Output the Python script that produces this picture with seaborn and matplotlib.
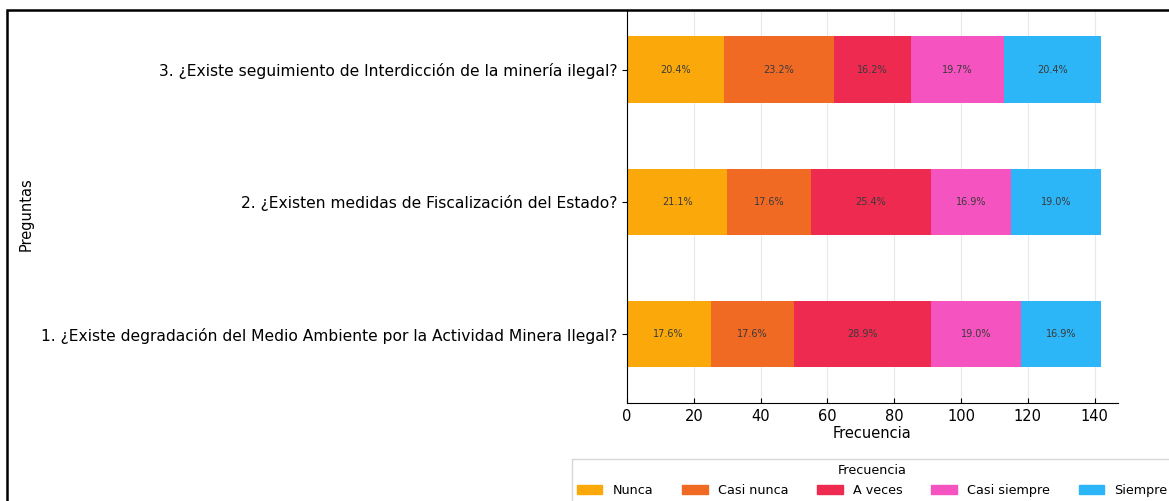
import numpy as np
import pandas as pd
import matplotlib
matplotlib.use('Agg')
import matplotlib.pyplot as plt
import seaborn as sns
from matplotlib.patches import Patch, Rectangle

# datos (frecuencias por respuesta, n = 142)
preguntas = [
    '3. ¿Existe seguimiento de Interdicción de la minería ilegal?',
    '2. ¿Existen medidas de Fiscalización del Estado?',
    '1. ¿Existe degradación del Medio Ambiente por la Actividad Minera Ilegal?',
]
categorias = ['Nunca', 'Casi nunca', 'A veces', 'Casi siempre', 'Siempre']
nunca = [29, 30, 25]
casi_nunca = [33, 25, 25]
a_veces = [23, 36, 41]
casi_siempre = [28, 24, 27]
siempre = [29, 27, 24]
colores = ['#FBA90A', '#F06A24', '#EE2A50', '#F553BF', '#2CB6F8']

df = pd.DataFrame({'Pregunta': preguntas, 'Nunca': nunca, 'Casi nunca': casi_nunca,
                   'A veces': a_veces, 'Casi siempre': casi_siempre, 'Siempre': siempre})
acum = df[categorias].cumsum(axis=1)
total = df[categorias].sum(axis=1)

fig = plt.figure(figsize=(11.69, 5.01), dpi=100)
ax = fig.add_axes([627/1169, 1 - 403/501, (1118 - 627)/1169, (403 - 10)/501])
ax.set_axisbelow(True)
ax.grid(True, color='#e8e8e8', linewidth=0.8)

# barras apiladas: dibujar acumulados de mayor a menor
for cat, col in reversed(list(zip(categorias, colores))):
    sns.barplot(x=acum[cat], y=df['Pregunta'], orient='h', color=col,
                width=0.5, saturation=1, ax=ax, order=preguntas)

# etiquetas de porcentaje
for i in range(len(preguntas)):
    for cat in categorias:
        val = df.loc[i, cat]
        centro = acum.loc[i, cat] - val / 2
        ax.text(centro, i, f'{val / total[i] * 100:.1f}%', ha='center', va='center',
                fontsize=7, color='#3a3a3a')

ax.set_xlim(0, 147)
ax.set_ylim(2.52, -0.45)
ax.set_xticks(np.arange(0, 141, 20))
ax.tick_params(axis='x', labelsize=10.5, direction='in', pad=4)
ax.tick_params(axis='y', labelsize=11.2)
ax.set_xlabel('Frecuencia', fontsize=10.5, labelpad=2)
ax.set_ylabel('Preguntas', fontsize=10.5)
ax.yaxis.set_label_coords(-1.208, 0.48)
for s in ['top', 'right']:
    ax.spines[s].set_visible(False)

handles = [Patch(color=c, label=l) for c, l in zip(colores, categorias)]
fig.legend(handles=handles, title='Frecuencia', loc='upper center',
           bbox_to_anchor=(0.7461, 1 - 453/501), ncol=5, fontsize=9.2, title_fontsize=9.2,
           frameon=True, edgecolor='#cccccc', fancybox=False, columnspacing=2.25)

# marco de la captura
fig.patches.append(Rectangle((7/1169, -0.1), 1.2, 1.1 - 10/501, transform=fig.transFigure,
                             fill=False, edgecolor='black', linewidth=1.8))

plt.savefig('out.png', dpi=100)
